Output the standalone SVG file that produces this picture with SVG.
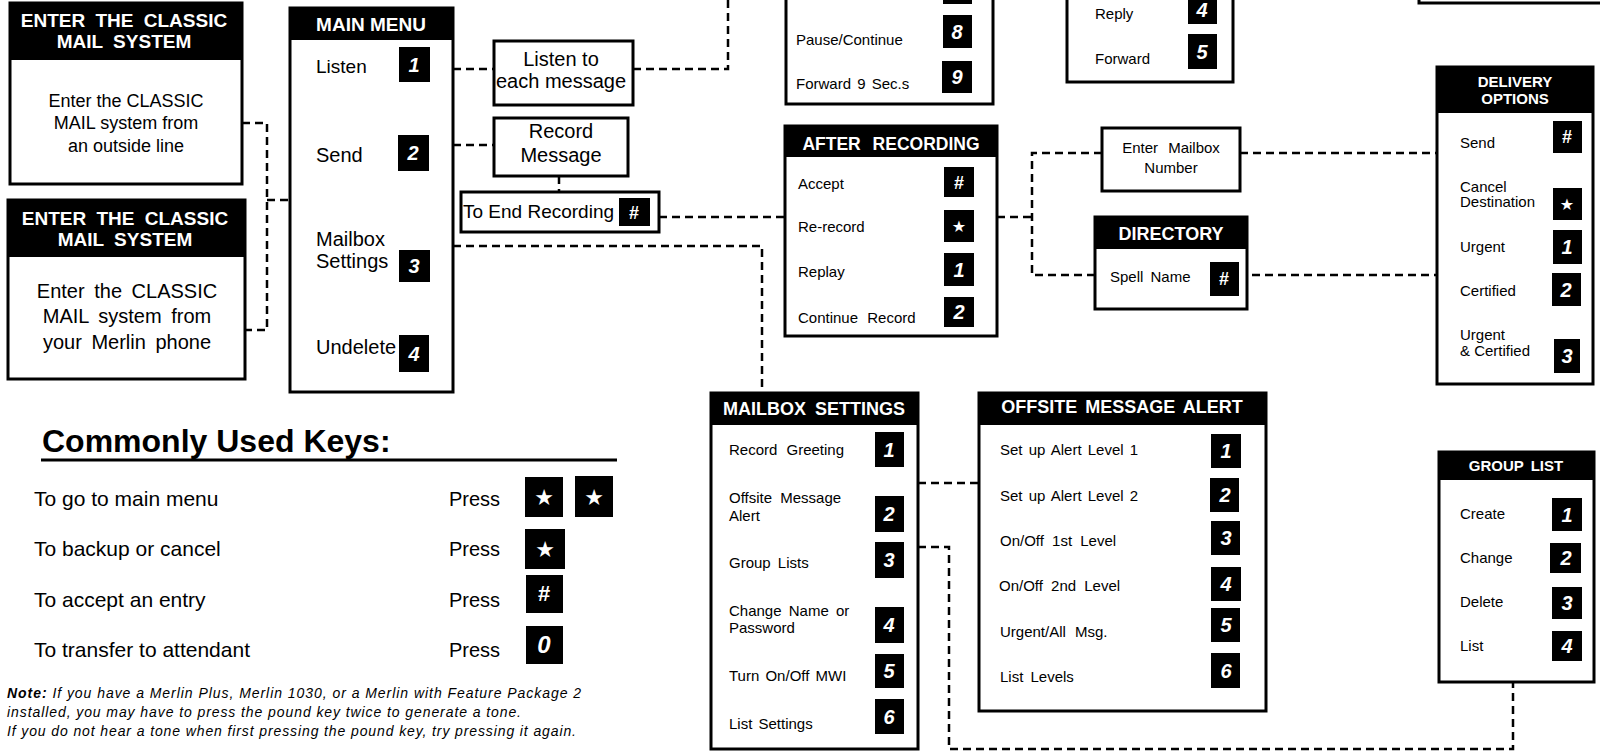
<svg xmlns="http://www.w3.org/2000/svg" width="1600" height="751" viewBox="0 0 1600 751">
<style>
.box{fill:#fff;stroke:#000;stroke-width:3}
.hdr{fill:#000}
.ht{font-family:"Liberation Sans",Arial,sans-serif;font-weight:bold;fill:#fff;text-anchor:middle}
.t{font-family:"Liberation Sans",Arial,sans-serif;fill:#000;font-size:15px}
.c{text-anchor:middle}
.k{fill:#000}
.kt{font-family:"Liberation Sans",Arial,sans-serif;font-weight:bold;font-style:italic;fill:#fff;text-anchor:middle;font-size:20px}
.h{font-style:normal;font-size:18px}
.st{font-family:"DejaVu Sans",sans-serif;fill:#fff;text-anchor:middle;font-size:16px}
.dash{fill:none;stroke:#000;stroke-width:2.5;stroke-dasharray:8 5}
</style>
<rect width="1600" height="751" fill="#fff"/>

<g id="connectors">
<path class="dash" d="M242,123 H267 V330 H245"/>
<path class="dash" d="M267,200 H290"/>
<path class="dash" d="M453,69 H494"/>
<path class="dash" d="M633,69 H728 V0"/>
<path class="dash" d="M453,145 H494"/>
<path class="dash" d="M559,176 V192"/>
<path class="dash" d="M659,217 H785"/>
<path class="dash" d="M453,246 H762 V393"/>
<path class="dash" d="M997,217 H1032"/>
<path class="dash" d="M1102,153 H1032 V275 H1095"/>
<path class="dash" d="M1240,153 H1437"/>
<path class="dash" d="M1239,275 H1437"/>
<path class="dash" d="M918,483 H979"/>
<path class="dash" d="M918,547 H949 V749 H1513 V682"/>
</g>

<g id="enter-outside">
<rect class="box" x="10" y="3" width="232" height="181"/>
<rect class="hdr" x="10" y="3" width="232" height="57"/>
<text class="ht" x="124" y="27" style="font-size:19px" word-spacing="5">ENTER THE CLASSIC</text>
<text class="ht" x="124" y="48" style="font-size:19px" word-spacing="5">MAIL SYSTEM</text>
<text class="t c" x="126" y="107" style="font-size:18px">Enter the CLASSIC</text>
<text class="t c" x="126" y="129" style="font-size:18px">MAIL system from</text>
<text class="t c" x="126" y="152" style="font-size:18px">an outside line</text>
</g>

<g id="enter-merlin">
<rect class="box" x="8" y="200" width="237" height="179"/>
<rect class="hdr" x="8" y="200" width="237" height="57"/>
<text class="ht" x="125" y="225" style="font-size:19px" word-spacing="5">ENTER THE CLASSIC</text>
<text class="ht" x="125" y="246" style="font-size:19px" word-spacing="5">MAIL SYSTEM</text>
<text class="t c" x="127" y="298" style="font-size:20px" word-spacing="4">Enter the CLASSIC</text>
<text class="t c" x="127" y="323" style="font-size:20px" word-spacing="4">MAIL system from</text>
<text class="t c" x="127" y="349" style="font-size:20px" word-spacing="4">your Merlin phone</text>
</g>

<g id="main-menu">
<rect class="box" x="290" y="8" width="163" height="384"/>
<rect class="hdr" x="290" y="8" width="163" height="32"/>
<text class="ht" x="371" y="31" style="font-size:19px">MAIN MENU</text>
<text class="t" x="316" y="73" style="font-size:19px">Listen</text>
<text class="t" x="316" y="162" style="font-size:20px">Send</text>
<text class="t" x="316" y="246" style="font-size:20px">Mailbox</text>
<text class="t" x="316" y="268" style="font-size:20px">Settings</text>
<text class="t" x="316" y="354" style="font-size:20px">Undelete</text>
<rect class="k" x="399" y="47" width="31" height="35"/><text class="kt" x="414" y="72">1</text>
<rect class="k" x="398" y="135" width="31" height="36"/><text class="kt" x="413" y="160">2</text>
<rect class="k" x="399" y="250" width="31" height="32"/><text class="kt" x="414" y="273">3</text>
<rect class="k" x="399" y="335" width="30" height="37"/><text class="kt" x="414" y="361">4</text>
</g>

<g id="listen-each">
<rect class="box" x="494" y="41" width="139" height="64"/>
<text class="t c" x="561" y="66" style="font-size:20px">Listen to</text>
<text class="t c" x="561" y="88" style="font-size:20px">each message</text>
</g>

<g id="record-message">
<rect class="box" x="494" y="118" width="134" height="58"/>
<text class="t c" x="561" y="138" style="font-size:20px">Record</text>
<text class="t c" x="561" y="162" style="font-size:20px">Message</text>
</g>

<g id="end-recording">
<rect class="box" x="461" y="192" width="198" height="40"/>
<text class="t" x="463" y="218" style="font-size:19px">To End Recording</text>
<rect class="k" x="619" y="198" width="31" height="28"/><text class="kt h" x="634" y="219">#</text>
</g>

<g id="listen-options">
<rect class="box" x="786" y="-20" width="207" height="124"/>
<rect class="k" x="943" y="-30" width="29" height="34"/>
<text class="t" x="796" y="45">Pause/Continue</text>
<text class="t" x="796" y="89" word-spacing="2">Forward 9 Sec.s</text>
<rect class="k" x="943" y="15" width="29" height="33"/><text class="kt" x="957" y="39">8</text>
<rect class="k" x="942" y="61" width="30" height="32"/><text class="kt" x="957" y="84">9</text>
</g>

<g id="reply-options">
<rect class="box" x="1067" y="-20" width="166" height="102"/>
<text class="t" x="1095" y="19">Reply</text>
<text class="t" x="1095" y="64">Forward</text>
<rect class="k" x="1188" y="-10" width="29" height="34"/><text class="kt" x="1202" y="17">4</text>
<rect class="k" x="1188" y="34" width="29" height="35"/><text class="kt" x="1202" y="59">5</text>
</g>

<g id="top-right-box">
<rect class="box" x="1419" y="-20" width="200" height="23"/>
</g>

<g id="after-recording">
<rect class="box" x="785" y="126" width="212" height="210"/>
<rect class="hdr" x="785" y="126" width="212" height="31"/>
<text class="ht" x="891" y="150" style="font-size:17.5px" word-spacing="7">AFTER RECORDING</text>
<text class="t" x="798" y="189">Accept</text>
<text class="t" x="798" y="232">Re-record</text>
<text class="t" x="798" y="277">Replay</text>
<text class="t" x="798" y="323" word-spacing="5">Continue Record</text>
<rect class="k" x="944" y="167" width="30" height="30"/><text class="kt h" x="959" y="189">#</text>
<rect class="k" x="944" y="210" width="30" height="32"/><text class="st" x="959" y="232">★</text>
<rect class="k" x="944" y="253" width="30" height="33"/><text class="kt" x="959" y="277">1</text>
<rect class="k" x="944" y="297" width="30" height="30"/><text class="kt" x="959" y="319">2</text>
</g>

<g id="enter-mailbox">
<rect class="box" x="1102" y="128" width="138" height="63"/>
<text class="t c" x="1171" y="153" word-spacing="6">Enter Mailbox</text>
<text class="t c" x="1171" y="173">Number</text>
</g>

<g id="directory">
<rect class="box" x="1095" y="217" width="152" height="92"/>
<rect class="hdr" x="1095" y="217" width="152" height="32"/>
<text class="ht" x="1171" y="240" style="font-size:18px">DIRECTORY</text>
<text class="t" x="1110" y="282" word-spacing="3">Spell Name</text>
<rect class="k" x="1210" y="262" width="29" height="34"/><text class="kt h" x="1224" y="285">#</text>
</g>

<g id="delivery-options">
<rect class="box" x="1437" y="67" width="156" height="317"/>
<rect class="hdr" x="1437" y="67" width="156" height="46"/>
<text class="ht" x="1515" y="87" style="font-size:15px">DELIVERY</text>
<text class="ht" x="1515" y="104" style="font-size:15px">OPTIONS</text>
<text class="t" x="1460" y="148">Send</text>
<text class="t" x="1460" y="192">Cancel</text>
<text class="t" x="1460" y="207">Destination</text>
<text class="t" x="1460" y="252">Urgent</text>
<text class="t" x="1460" y="296">Certified</text>
<text class="t" x="1460" y="340">Urgent</text>
<text class="t" x="1460" y="356">&amp; Certified</text>
<rect class="k" x="1553" y="121" width="29" height="32"/><text class="kt h" x="1567" y="143">#</text>
<rect class="k" x="1553" y="188" width="29" height="32"/><text class="st" x="1567" y="210">★</text>
<rect class="k" x="1553" y="230" width="29" height="34"/><text class="kt" x="1567" y="254">1</text>
<rect class="k" x="1552" y="273" width="29" height="33"/><text class="kt" x="1566" y="297">2</text>
<rect class="k" x="1554" y="339" width="26" height="34"/><text class="kt" x="1567" y="363">3</text>
</g>

<g id="mailbox-settings">
<rect class="box" x="711" y="393" width="207" height="356"/>
<rect class="hdr" x="711" y="393" width="207" height="32"/>
<text class="ht" x="814" y="415" style="font-size:18px" word-spacing="4">MAILBOX SETTINGS</text>
<text class="t" x="729" y="455" word-spacing="5">Record Greeting</text>
<text class="t" x="729" y="503" word-spacing="4">Offsite Message</text>
<text class="t" x="729" y="521">Alert</text>
<text class="t" x="729" y="568" word-spacing="3">Group Lists</text>
<text class="t" x="729" y="616" word-spacing="3">Change Name or</text>
<text class="t" x="729" y="633">Password</text>
<text class="t" x="729" y="681" word-spacing="2">Turn On/Off MWI</text>
<text class="t" x="729" y="729" word-spacing="2">List Settings</text>
<rect class="k" x="875" y="432" width="29" height="35"/><text class="kt" x="889" y="457">1</text>
<rect class="k" x="875" y="496" width="29" height="36"/><text class="kt" x="889" y="521">2</text>
<rect class="k" x="875" y="542" width="29" height="36"/><text class="kt" x="889" y="567">3</text>
<rect class="k" x="875" y="607" width="29" height="36"/><text class="kt" x="889" y="632">4</text>
<rect class="k" x="875" y="654" width="29" height="34"/><text class="kt" x="889" y="678">5</text>
<rect class="k" x="875" y="699" width="29" height="35"/><text class="kt" x="889" y="724">6</text>
</g>

<g id="offsite-alert">
<rect class="box" x="979" y="393" width="287" height="318"/>
<rect class="hdr" x="979" y="393" width="287" height="32"/>
<text class="ht" x="1122" y="413" style="font-size:18px" word-spacing="3">OFFSITE MESSAGE ALERT</text>
<text class="t" x="1000" y="455" word-spacing="2">Set up Alert Level 1</text>
<text class="t" x="1000" y="501" word-spacing="2">Set up Alert Level 2</text>
<text class="t" x="1000" y="546" word-spacing="4">On/Off 1st Level</text>
<text class="t" x="999" y="591" word-spacing="4">On/Off 2nd Level</text>
<text class="t" x="1000" y="637" word-spacing="5">Urgent/All Msg.</text>
<text class="t" x="1000" y="682" word-spacing="3">List Levels</text>
<rect class="k" x="1211" y="434" width="30" height="34"/><text class="kt" x="1226" y="458">1</text>
<rect class="k" x="1210" y="478" width="29" height="34"/><text class="kt" x="1225" y="502">2</text>
<rect class="k" x="1211" y="521" width="29" height="34"/><text class="kt" x="1226" y="545">3</text>
<rect class="k" x="1211" y="567" width="30" height="34"/><text class="kt" x="1226" y="591">4</text>
<rect class="k" x="1211" y="608" width="29" height="34"/><text class="kt" x="1226" y="632">5</text>
<rect class="k" x="1211" y="653" width="29" height="35"/><text class="kt" x="1226" y="678">6</text>
</g>

<g id="group-list">
<rect class="box" x="1439" y="452" width="155" height="230"/>
<rect class="hdr" x="1439" y="452" width="155" height="28"/>
<text class="ht" x="1516" y="471" style="font-size:15px" word-spacing="3">GROUP LIST</text>
<text class="t" x="1460" y="519">Create</text>
<text class="t" x="1460" y="563">Change</text>
<text class="t" x="1460" y="607">Delete</text>
<text class="t" x="1460" y="651">List</text>
<rect class="k" x="1552" y="498" width="30" height="33"/><text class="kt" x="1567" y="522">1</text>
<rect class="k" x="1550" y="543" width="31" height="30"/><text class="kt" x="1566" y="565">2</text>
<rect class="k" x="1552" y="587" width="30" height="32"/><text class="kt" x="1567" y="610">3</text>
<rect class="k" x="1552" y="631" width="30" height="30"/><text class="kt" x="1567" y="653">4</text>
</g>

<g id="common-keys">
<text x="42" y="452" font-family="Liberation Sans, Arial, sans-serif" font-weight="bold" font-size="32">Commonly Used Keys:</text>
<line x1="41" y1="460" x2="617" y2="460" stroke="#000" stroke-width="3"/>
<text class="t" x="34" y="506" style="font-size:21px">To go to main menu</text>
<text class="t" x="34" y="556" style="font-size:21px">To backup or cancel</text>
<text class="t" x="34" y="607" style="font-size:21px">To accept an entry</text>
<text class="t" x="34" y="657" style="font-size:21px">To transfer to attendant</text>
<text class="t" x="449" y="506" style="font-size:20px">Press</text>
<text class="t" x="449" y="556" style="font-size:20px">Press</text>
<text class="t" x="449" y="607" style="font-size:20px">Press</text>
<text class="t" x="449" y="657" style="font-size:20px">Press</text>
<rect class="k" x="525" y="477" width="38" height="40"/><text class="st" x="544" y="505" style="font-size:22px">★</text>
<rect class="k" x="575" y="476" width="38" height="41"/><text class="st" x="594" y="505" style="font-size:22px">★</text>
<rect class="k" x="525" y="529" width="40" height="40"/><text class="st" x="545" y="557" style="font-size:22px">★</text>
<rect class="k" x="526" y="575" width="37" height="38"/><text class="kt" x="544" y="601" style="font-style:normal;font-size:22px">#</text>
<rect class="k" x="526" y="626" width="37" height="38"/><text class="kt" x="544" y="653" style="font-size:24px">0</text>
</g>

<g id="note" font-family="Liberation Sans, Arial, sans-serif" font-size="14" font-style="italic">
<text x="7" y="698" textLength="574" lengthAdjust="spacing"><tspan font-weight="bold">Note:</tspan> If you have a Merlin Plus, Merlin 1030, or a Merlin with Feature Package 2</text>
<text x="7" y="717" textLength="514" lengthAdjust="spacing">installed, you may have to press the pound key twice to generate a tone.</text>
<text x="7" y="736" textLength="569" lengthAdjust="spacing">If you do not hear a tone when first pressing the pound key, try pressing it again.</text>
</g>
</svg>
